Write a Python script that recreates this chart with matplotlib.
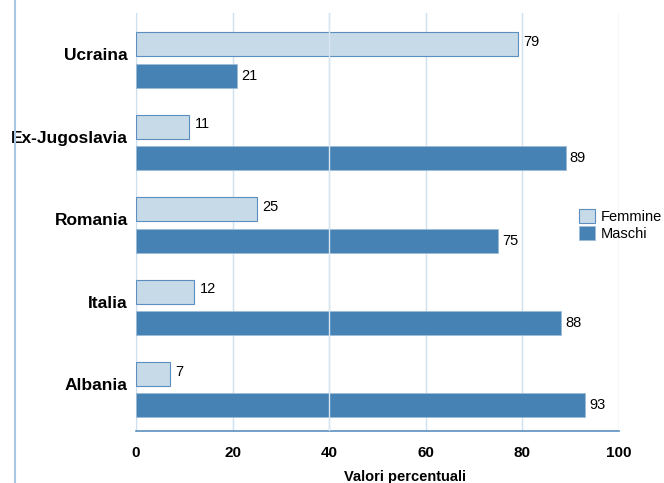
import matplotlib.pyplot as plt
from matplotlib.lines import Line2D
import numpy as np

plt.rcParams['font.family'] = ['Liberation Sans', 'DejaVu Sans']

paesi = ['Albania', 'Italia', 'Romania', 'Ex-Jugoslavia', 'Ucraina']
femmine = [7, 12, 25, 11, 79]
maschi = [93, 88, 75, 89, 21]

col_f = '#c7dae8'
col_f_edge = '#5b8fc0'
col_m = '#4682b4'
col_grid = '#cfe0ee'

fig = plt.figure(figsize=(6.64, 4.83), dpi=100)
ax = fig.add_axes([136 / 664, 1 - 431 / 483, (619 - 136) / 664, (431 - 13) / 483])

y = np.arange(len(paesi))
h = 0.29
off = 0.19

bf = ax.barh(y + off, femmine, height=h, color=col_f, edgecolor=col_f_edge,
             linewidth=0.8, label='Femmine', zorder=3)
bm = ax.barh(y - off, maschi, height=h, color=col_m, edgecolor='#9dbcd8',
             linewidth=0.6, label='Maschi', zorder=3)

for yy, v in zip(y, femmine):
    ax.text(v + 1.2, yy + off + 0.03, str(v), va='center', ha='left', fontsize=10.5)
for yy, v in zip(y, maschi):
    ax.text(v + 0.8, yy - off, str(v), va='center', ha='left', fontsize=10.5)

ax.set_xlim(0, 100)
ax.set_ylim(-0.5, 4.57)
ax.set_xticks([0, 20, 40, 60, 80, 100])
ax.set_yticks(y + 0.07)
ax.set_yticklabels(paesi, fontweight='bold', fontsize=12.5)
for lab in ax.get_xticklabels():
    lab.set_fontweight('bold')
    lab.set_fontsize(11)
ax.tick_params(axis='both', length=0)
ax.tick_params(axis='x', pad=11)
ax.tick_params(axis='y', pad=6)

ax.xaxis.grid(True, color=col_grid, linewidth=1, zorder=0)
ax.set_axisbelow(True)
# linea a 40 visibile sopra le barre
ax.axvline(40, color='#d8e6f1', linewidth=1, zorder=4)

for s in ['top', 'right']:
    ax.spines[s].set_visible(False)
ax.spines['left'].set_color(col_grid)
ax.spines['bottom'].set_color('#5b8fc0')
ax.spines['bottom'].set_linewidth(1.2)

ax.set_xlabel('Valori percentuali', fontweight='bold', fontsize=10.5, labelpad=5)
ax.xaxis.set_label_coords((405 - 136) / 483, -0.0)
ax.xaxis.label.set_verticalalignment('top')
ax.xaxis.set_label_coords((405 - 136) / 483, -(470 - 431) / 418)

fig.legend(handles=[bf, bm], loc='upper left', bbox_to_anchor=(573 / 664, 1 - 203 / 483),
           frameon=False, fontsize=10.5, handlelength=1.1, handleheight=1.1,
           handletextpad=0.4, labelspacing=0.15, borderaxespad=0)

fig.add_artist(Line2D([15 / 664, 15 / 664], [0, 1], color='#a9c7e2', linewidth=1.5))

fig.savefig('out.png', dpi=100)
